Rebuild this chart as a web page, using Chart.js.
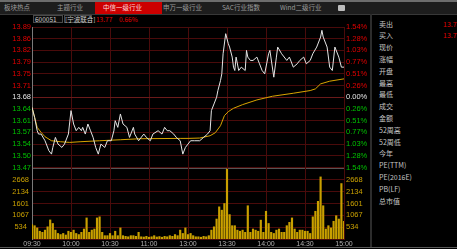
<!DOCTYPE html>
<html><head><meta charset="utf-8">
<script src="https://cdn.jsdelivr.net/npm/chart.js@4.4.1/dist/chart.umd.min.js"></script>
<style>
html,body{margin:0;padding:0;background:#000;}
body{width:457px;height:249px;position:relative;overflow:hidden;font-family:"Noto Sans CJK SC","Liberation Sans",sans-serif;}
.a{position:absolute;white-space:nowrap;}
canvas{position:absolute;left:0;}
</style></head><body>
<div id="ui"></div>
<canvas id="pc" width="372" height="154" style="top:20px"></canvas>
<canvas id="vc" width="372" height="89" style="top:160px"></canvas>
<script>
// ---------- data ----------
const tabNames = ['板块热点','主题行业','中信一级行业','申万一级行业','SAC行业指数','Wind二级行业'];
const stockCode = '600051';
const stockName = '[宁波联合]';
const lastPrice = '13.77';
const changePct = '0.66%';
const panelLabels = ['卖出','买入','现价','涨幅','开盘','最高','最低','成交','金额','52周高','52周低','今年','PE(TTM)','PE(2016E)','PB(LF)','总市值'];
const panelValues = ['13.78','13.77'];

const xTickMin = [0,30,60,90,120,150,180,210,240];
const xTickLabels = ['09:30','10:00','10:30','11:00','13:00','13:30','14:00','14:30','15:00'];

const priceTickLabels = ['13.47','13.50','13.54','13.57','13.61','13.64','13.68','13.71','13.75','13.79','13.82','13.86','13.89'];
const pctTickLabels = ['1.54%','1.28%','1.03%','0.77%','0.51%','0.26%','0.00%','0.26%','0.51%','0.77%','1.03%','1.28%','1.54%'];
const volTickLabels = ['534','1067','1601','2134','2668'];
const priceMinVal = 13.47, priceMaxVal = 13.89, volMaxVal = 3202;

const priceMin = [0,2,4,5,7,10,13,15,16,18,20,23,25,28,30,32,34,36,38,39,41,43,45,47,49,51,53,56,58,61,63,64,66,68,70,73,75,78,79,82,86,88,91,93,97,100,102,104,106,109,111,114,116,118,120,122,125,129,132,135,137,138,140,142,143,145,146,147,149,151,152,154,155,156,157,159,161,164,165,166,168,170,173,175,177,179,182,183,186,188,189,192,196,198,201,204,206,209,211,214,216,219,222,223,224,227,229,231,233,236,238,240];
const priceVal = [13.65,13.62,13.58,13.57,13.57,13.55,13.52,13.51,13.53,13.56,
13.54,13.53,13.54,13.57,13.64,13.60,13.58,13.59,13.58,13.59,
13.57,13.60,13.58,13.56,13.53,13.51,13.54,13.53,13.55,13.55,
13.58,13.61,13.59,13.63,13.60,13.59,13.56,13.59,13.57,13.55,
13.57,13.56,13.55,13.57,13.58,13.57,13.59,13.58,13.58,13.57,
13.56,13.55,13.51,13.53,13.54,13.55,13.55,13.55,13.56,13.57,
13.58,13.64,13.66,13.68,13.70,13.73,13.75,13.81,13.87,13.84,
13.83,13.80,13.77,13.76,13.80,13.76,13.77,13.76,13.82,13.80,
13.79,13.79,13.80,13.78,13.76,13.75,13.81,13.82,13.74,13.80,
13.83,13.81,13.79,13.80,13.77,13.78,13.79,13.80,13.78,13.79,
13.81,13.83,13.86,13.88,13.86,13.83,13.77,13.76,13.83,13.80,
13.77,13.77];

const avgMin = [0,2,4,7,10,15,22,29,37,52,68,83,114,120,129,137,141,145,148,151,155,162,173,185,201,214,218,222,229,240];
const avgVal = [13.65,13.62,13.59,13.575,13.562,13.55,13.547,13.545,13.547,13.55,13.553,13.556,13.557,13.557,13.558,13.565,13.574,13.595,13.625,13.637,13.647,13.658,13.672,13.683,13.692,13.70,13.705,13.72,13.728,13.735];

// volume per 2-minute slot, 09:30 .. 15:00
const volVal = [650,600,500,350,300,400,550,860,700,400,
250,200,250,180,350,300,400,250,200,300,
450,950,300,400,450,950,1000,300,150,150,
250,150,350,150,500,150,120,100,150,150,
120,300,100,90,120,80,100,150,90,110,
80,120,100,150,120,200,150,400,250,500,
200,250,150,100,100,80,120,100,150,400,
550,900,1450,1300,1600,3150,1100,600,600,400,
350,400,300,1500,300,450,400,350,850,300,
1250,700,300,250,400,450,300,300,600,750,
950,450,300,400,400,350,350,250,1000,1250,
1700,2800,1500,450,600,500,800,1050,900,2500,
800];
const volMin = volVal.map((_, i) => i * 2);

// ---------- static UI ----------
const ui = document.getElementById('ui');
function box(x, y, w, h, bg, extra) {
  const d = document.createElement('div'); d.className = 'a';
  d.style.cssText = `left:${x}px;top:${y}px;width:${w}px;height:${h}px;background:${bg};${extra||''}`;
  ui.appendChild(d); return d;
}
function txt(s, x, y, size, color, extra) {
  const d = document.createElement('div'); d.className = 'a'; d.textContent = s;
  d.style.cssText = `left:${x}px;top:${y}px;font-size:${size}px;line-height:${size+2}px;color:${color};${extra||''}`;
  ui.appendChild(d); return d;
}
box(0,0,457,2,'#6d6d6d');
box(0,2,457,12,'#1d1d1d');
box(95,2,67,12,'#cc0000');
const tabX = [4,57,103,163,222,280];
tabNames.forEach((t,i)=>txt(t, tabX[i], 3, 6.5, i===2 ? '#ffdada' : '#9c9c9c'));
box(338,5,7,6,'#bdbdbd','border-radius:1px');
box(0,14,457,1,'#383838');

box(33,15,30,8,'#0c0c0c','border:1px solid #4a4a4a;box-sizing:border-box;');
txt(stockCode, 35, 15, 6.5, '#c8c8c8');
box(64,15,28,8,'#0c0c0c','border:1px solid #4a4a4a;box-sizing:border-box;');
txt(stockName, 65, 15, 6.5, '#c8c8c8');
txt(lastPrice, 96, 15, 6.5, '#e00000');
txt(changePct, 119, 15, 6.5, '#e00000');

panelLabels.forEach((t,i)=>txt(t, 379, 24 + 11.8*i - 4.5, 7, '#c4c4c4'));
panelValues.forEach((t,i)=>txt(t, 443, 24 + 11.8*i - 4.5, 7, '#e00000'));

box(370,14,2,233,'#2c2c2c');
box(0,247,457,1,'#5a5a5a');

// ---------- charts ----------
const FONT = {family:'"Liberation Sans", Arial, sans-serif', size:7.5};
const GRID = '#4a0b0b';
const nT = priceTickLabels.length;
const priceTickVals = priceTickLabels.map((_, i) => priceMinVal + (priceMaxVal - priceMinVal) * i / (nT - 1));
const tickColor = i => i < 6 ? '#00c000' : (i === 6 ? '#e4e4e4' : '#e00000');

new Chart(document.getElementById('pc'), {
  type: 'line',
  data: { datasets: [
    { data: priceMin.map((m,i)=>({x:m, y:priceVal[i]})), borderColor:'#e4e4e4', borderWidth:1, pointRadius:0, tension:0, yAxisID:'y' },
    { data: avgMin.map((m,i)=>({x:m, y:avgVal[i]})), borderColor:'#d8a400', borderWidth:1, pointRadius:0, tension:0, yAxisID:'y' }
  ]},
  options: {
    responsive:false, animation:false, events:[],
    layout:{padding:{top:7, bottom:6, left:0, right:0}},
    plugins:{legend:{display:false}, tooltip:{enabled:false}},
    scales:{
      x:{type:'linear', min:0, max:240, offset:false,
         afterBuildTicks:s=>{s.ticks = xTickMin.map(v=>({value:v}));},
         ticks:{display:false}, grid:{color:GRID, drawTicks:false}, border:{display:false},
         afterFit:s=>{s.height = 0;}},
      y:{position:'left', min:priceMinVal, max:priceMaxVal,
         afterBuildTicks:s=>{s.ticks = priceTickVals.map(v=>({value:v}));},
         ticks:{callback:(v,i)=>priceTickLabels[i], color:c=>tickColor(c.index), font:FONT, padding:1, crossAlign:'center', autoSkip:false},
         grid:{color:c=>c.index===6 ? '#6a1a1a' : GRID, drawTicks:false}, border:{color:'#7a7a7a'},
         afterFit:s=>{s.width = 32;}},
      y2:{position:'right', min:priceMinVal, max:priceMaxVal,
         afterBuildTicks:s=>{s.ticks = priceTickVals.map(v=>({value:v}));},
         ticks:{callback:(v,i)=>pctTickLabels[i], color:c=>tickColor(c.index), font:FONT, padding:2, autoSkip:false},
         grid:{display:false, drawTicks:false}, border:{display:false},
         afterFit:s=>{s.width = 28;}}
    }
  }
});

new Chart(document.getElementById('vc'), {
  type: 'bar',
  data: { datasets: [
    { data: volMin.map((m,i)=>({x:m, y:volVal[i]})), backgroundColor:'#c9a000', barThickness:1.5, yAxisID:'y' }
  ]},
  options: {
    responsive:false, animation:false, events:[],
    layout:{padding:{top:8, bottom:0, left:0, right:0}},
    plugins:{legend:{display:false}, tooltip:{enabled:false}},
    scales:{
      x:{type:'linear', min:0, max:240, offset:false,
         afterBuildTicks:s=>{s.ticks = xTickMin.map(v=>({value:v}));},
         ticks:{callback:(v,i)=>xTickLabels[i], color:'#b0b0b0', font:{family:FONT.family, size:7}, padding:1, autoSkip:false, maxRotation:0},
         grid:{color:GRID, drawTicks:false, offset:false}, border:{color:GRID},
         afterFit:s=>{s.height = 10;}},
      y:{position:'left', min:0, max:volMaxVal,
         afterBuildTicks:s=>{s.ticks = volTickLabels.map(v=>({value:Number(v)}));},
         ticks:{callback:(v,i)=>volTickLabels[i], color:'#c9a000', font:FONT, padding:3, crossAlign:'center', autoSkip:false},
         grid:{color:GRID, drawTicks:false}, border:{color:'#7a7a7a'},
         afterFit:s=>{s.width = 32;}},
      y2:{position:'right', min:0, max:volMaxVal,
         afterBuildTicks:s=>{s.ticks = volTickLabels.map(v=>({value:Number(v)}));},
         ticks:{callback:(v,i)=>volTickLabels[i], color:'#c9a000', font:FONT, padding:2, autoSkip:false},
         grid:{display:false, drawTicks:false}, border:{display:false},
         afterFit:s=>{s.width = 28;}}
    }
  }
});

// separator between panes
box(32,168,312,1,'#555555');
</script>
</body></html>
